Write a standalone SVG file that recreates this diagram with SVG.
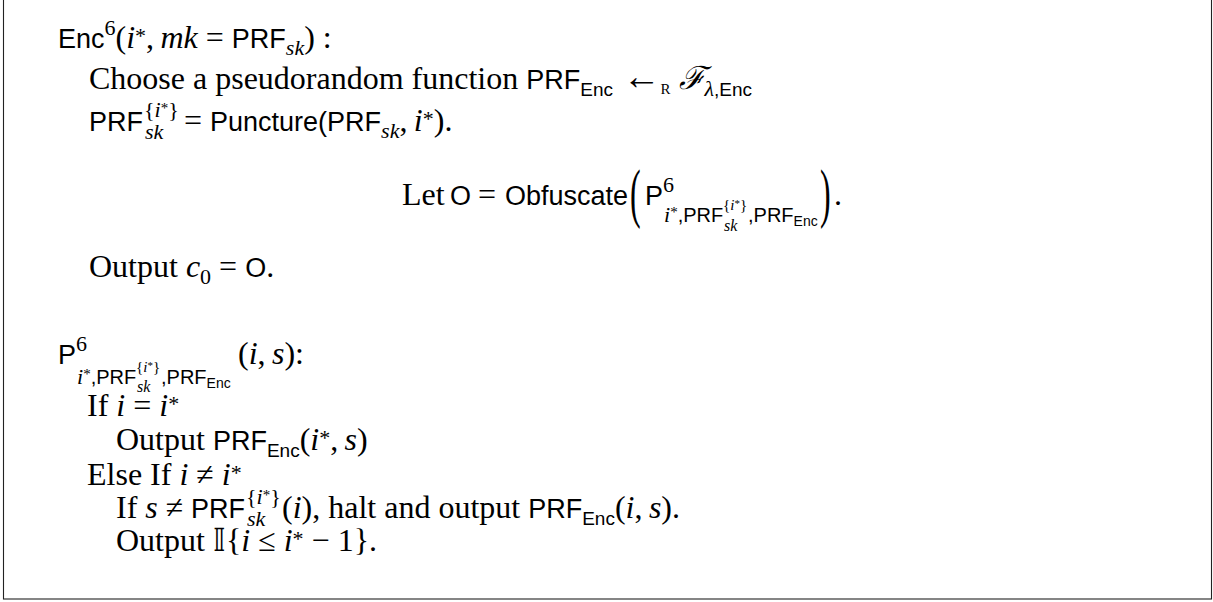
<svg xmlns="http://www.w3.org/2000/svg" width="1213" height="602" viewBox="0 0 1213 602">
<style>
text{font-family:"Liberation Serif",serif;font-size:32px;fill:#000}
.s{font-family:"Liberation Sans",sans-serif;font-size:27px}
.ss{font-family:"Liberation Sans",sans-serif;font-size:19px}
.ss2{font-family:"Liberation Sans",sans-serif;font-size:20px}
.i{font-style:italic}
.sup{font-size:22px}
.sub{font-size:22px}
.arr{font-size:38px}
</style>
<rect x="3.5" y="-2" width="1208" height="601" fill="#fff" stroke="#222" stroke-width="1.1"/>
<g id="enc-block">
<text x="58" y="48"><tspan class="s">Enc</tspan><tspan class="sup" dy="-13">6</tspan><tspan dy="13">(</tspan><tspan class="i">i</tspan><tspan class="sup" dy="-5">*</tspan><tspan dy="5">,&#8201;</tspan><tspan class="i">mk</tspan> = <tspan class="s">PRF</tspan><tspan class="i sub" dy="7">sk</tspan><tspan dy="-7">) :</tspan></text>
<text x="89" y="89">Choose a pseudorandom function <tspan class="s">PRF</tspan><tspan class="ss" dy="7">Enc</tspan><tspan class="arr" dy="-7"> ←</tspan><tspan font-size="15" dy="5">R</tspan><tspan class="i" dy="-5"> ℱ</tspan><tspan class="i sub" dy="7">λ</tspan><tspan class="ss">,Enc</tspan></text>
<text x="89" y="131"><tspan class="s">PRF</tspan><tspan class="sup" x="144" y="117">{<tspan class="i">i</tspan><tspan font-size="15" dy="-4">*</tspan><tspan dy="4">}</tspan></tspan><tspan class="i sub" x="145" y="139">sk</tspan><tspan x="176" y="131"> = </tspan><tspan class="s">Puncture(PRF</tspan><tspan class="i sub" dy="7">sk</tspan><tspan dy="-7">,&#8201;</tspan><tspan class="i">i</tspan><tspan class="sup" dy="-5">*</tspan><tspan dy="5">).</tspan></text>
<text x="402" y="205">Let <tspan class="s" x="450">O</tspan><tspan x="478">=</tspan><tspan class="s" x="505">Obfuscate</tspan></text>
<text transform="translate(630,215) scale(1,2.05)">(</text>
<text x="645" y="205"><tspan class="s">P</tspan><tspan class="sup" dy="-13">6</tspan></text>
<text y="222"><tspan x="664" class="i" font-size="22">i</tspan><tspan font-size="15" dy="-5">*</tspan><tspan class="ss2" dy="5">,PRF</tspan><tspan x="723" y="210" font-size="15">{<tspan class="i">i</tspan><tspan font-size="11" dy="-3">*</tspan><tspan dy="3">}</tspan></tspan><tspan x="724" y="231" class="i" font-size="16">sk</tspan><tspan x="748" y="222" class="ss2">,PRF</tspan><tspan font-family="Liberation Sans" font-size="14" dy="4">Enc</tspan></text>
<text transform="translate(820,215) scale(1,2.05)">)</text>
<text x="834" y="205">.</text>
<text x="89" y="277">Output <tspan class="i">c</tspan><tspan class="sub" dy="7">0</tspan><tspan dy="-7"> = </tspan><tspan class="s">O</tspan>.</text>
</g>
<g id="program-block">
<text x="58" y="364"><tspan class="s">P</tspan><tspan class="sup" dy="-13">6</tspan></text>
<text y="384"><tspan x="77" class="i" font-size="22">i</tspan><tspan font-size="15" dy="-5">*</tspan><tspan class="ss2" dy="5">,PRF</tspan><tspan x="136" y="372" font-size="15">{<tspan class="i">i</tspan><tspan font-size="11" dy="-3">*</tspan><tspan dy="3">}</tspan></tspan><tspan x="137" y="392" class="i" font-size="16">sk</tspan><tspan x="161" y="384" class="ss2">,PRF</tspan><tspan font-family="Liberation Sans" font-size="14" dy="4">Enc</tspan></text>
<text x="238" y="364">(<tspan class="i">i</tspan>,&#8201;<tspan class="i">s</tspan>):</text>
<text x="87" y="416">If <tspan class="i">i</tspan> = <tspan class="i">i</tspan><tspan class="sup" dy="-5">*</tspan></text>
<text x="116" y="450">Output <tspan class="s">PRF</tspan><tspan class="ss" dy="7">Enc</tspan><tspan dy="-7">(</tspan><tspan class="i">i</tspan><tspan class="sup" dy="-5">*</tspan><tspan dy="5">,&#8201;</tspan><tspan class="i">s</tspan>)</text>
<text x="87" y="485">Else If <tspan class="i">i</tspan> ≠ <tspan class="i">i</tspan><tspan class="sup" dy="-5">*</tspan></text>
<text x="116" y="518">If <tspan class="i">s</tspan> ≠ <tspan class="s" x="191">PRF</tspan><tspan class="sup" x="246" y="504">{<tspan class="i">i</tspan><tspan font-size="15" dy="-4">*</tspan><tspan dy="4">}</tspan></tspan><tspan class="i sub" x="247" y="526">sk</tspan><tspan x="282" y="518">(</tspan><tspan class="i">i</tspan>), halt and output <tspan class="s">PRF</tspan><tspan class="ss" dy="7">Enc</tspan><tspan dy="-7">(</tspan><tspan class="i">i</tspan>,&#8201;<tspan class="i">s</tspan>).</text>
<text x="116" y="551">Output 𝕀{<tspan class="i">i</tspan> ≤ <tspan class="i">i</tspan><tspan class="sup" dy="-5">*</tspan><tspan dy="5"> − 1}.</tspan></text>
</g>
</svg>
